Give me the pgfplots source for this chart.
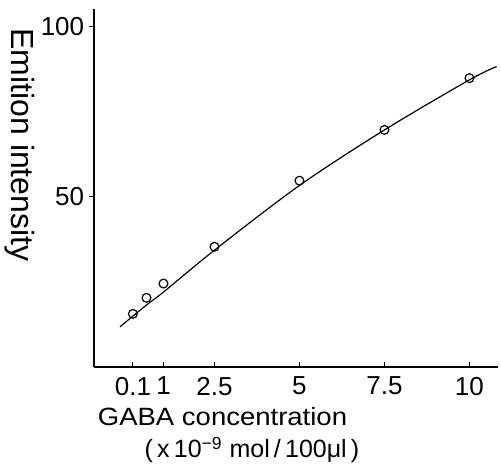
\documentclass[border=0pt]{standalone}
\usepackage{fontspec}
\setmainfont{Liberation Sans}
\usepackage{pgfplots}
\pgfplotsset{compat=1.18}

\begin{document}
\begin{tikzpicture}
\begin{axis}[
    scale only axis,
    width=202pt, height=179pt,
    xmin=-1.044, xmax=10.84,
    ymin=0, ymax=105.1,
    axis x line=bottom, axis y line=left,
    axis line style={-, line width=0.6pt},
    xtick={0.1,1,2.5,5,7.5,10},
    ytick={50,100},
    major tick length=2.4pt,
    tick style={line width=0.5pt, black},
    xtick align=inside,
    ytick align=outside,
    ticklabel style={font=\fontsize{13}{15}\selectfont},
    xticklabel style={yshift=-1.5pt},
    yticklabel style={xshift=1pt},
    /pgf/number format/assume math mode=true,
    clip=false,
]
\addplot[smooth, line width=0.6pt, black] coordinates {
    (-0.28,11.8) (0.5,18.2) (1,22.0) (2.5,34.3) (5,53.3) (7.5,69.6) (10,84.3) (10.8,88.2)
};
\addplot[only marks, mark=o, mark size=2.2pt, mark options={line width=0.6pt}, black] coordinates {
    (0.1,15.6) (0.5,20.3) (1,24.5) (2.5,35.3) (5,54.7) (7.5,69.6) (10,84.8)
};
\end{axis}
\node[rotate=-90, font=\fontsize{16}{18}\selectfont] at (-37pt,111pt) {Emition intensity};
\node[font=\fontsize{12.5}{15}\selectfont\addfontfeature{FakeStretch=1.1}] at (64.25pt,-25pt) {GABA concentration};
\node[font=\fontsize{12.5}{15}\selectfont] at (79pt,-41.5pt) {(\,x\,10\textsuperscript{−9} mol\,/\,100μl\,)};
\pgfresetboundingbox
\path[use as bounding box] (-47pt,-51.5pt) rectangle (203.5pt,183.5pt);
\end{tikzpicture}
\end{document}
